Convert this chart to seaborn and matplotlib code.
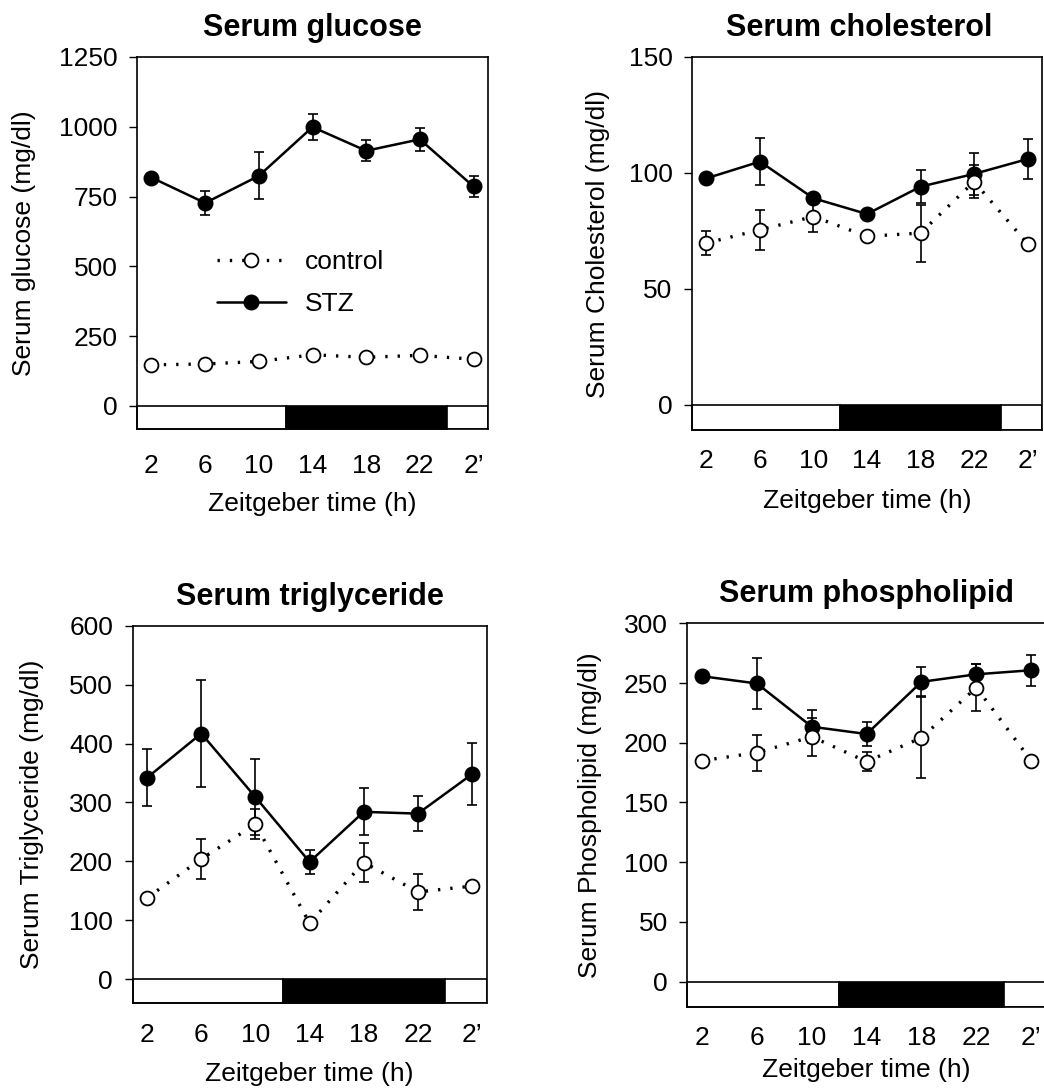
import numpy as np
import pandas as pd
import matplotlib
matplotlib.use("Agg")
import matplotlib.pyplot as plt
import seaborn as sns
from matplotlib.patches import Rectangle

sns.set_theme(style="ticks")
plt.rcParams["font.family"] = ["Liberation Sans", "DejaVu Sans"]
plt.rcParams.update({"text.color": "black", "axes.labelcolor": "black",
                     "xtick.color": "black", "ytick.color": "black"})

# ---------------- data ----------------
time_labels = ["2", "6", "10", "14", "18", "22", "2\u2019"]

glucose_ctrl = [147, 150, 159, 183, 174, 181, 167]
glucose_ctrl_err = [5, 5, 5, 5, 5, 5, 5]
glucose_stz = [818, 727, 824, 999, 914, 955, 786]
glucose_stz_err = [10, 42, 84, 45, 38, 42, 37]

chol_ctrl = [69.8, 75.5, 81.2, 72.7, 74.1, 96.3, 69.5]
chol_ctrl_err = [5, 8.7, 6.7, 1.5, 12.3, 7, 1]
chol_stz = [97.7, 104.9, 89.1, 82.3, 94.1, 99.6, 106]
chol_stz_err = [1.5, 10, 2, 1.5, 7, 9, 8.7]

tg_ctrl = [138, 204, 263, 95, 198, 148, 158]
tg_ctrl_err = [5, 34, 25, 5, 33, 30, 5]
tg_stz = [342, 417, 309, 199, 284, 281, 348]
tg_stz_err = [48, 90, 64, 20, 40, 30, 53]

pl_ctrl = [185, 191.7, 205, 184.2, 204.2, 246.2, 185]
pl_ctrl_err = [2, 15, 16, 8, 34, 20, 2]
pl_stz = [255.7, 249.6, 213.4, 207.3, 251, 257.3, 260.7]
pl_stz_err = [2, 21, 14, 10, 12, 9, 13]

titles = ["Serum glucose", "Serum cholesterol", "Serum triglyceride", "Serum phospholipid"]
ylabels = ["Serum glucose (mg/dl)", "Serum Cholesterol (mg/dl)",
           "Serum Triglyceride (mg/dl)", "Serum Phospholipid (mg/dl)"]
xlabel = "Zeitgeber time (h)"

# light / dark phases in category units (ZT12 -> 2.5, ZT24 -> 5.5)
dark_start, dark_end = 2.5, 5.5

# ---------------- layout ----------------
W, H = 1044, 1090
fig = plt.figure(figsize=(W / 100, H / 100), dpi=100)

def rect(l, r, t, b):
    return [l / W, 1 - b / H, (r - l) / W, (b - t) / H]

panels = [
    dict(rect=rect(137, 488, 57, 429.3), ylim=(-84, 1250), yticks=np.arange(0, 1251, 250),
         ctrl=glucose_ctrl, ctrl_err=glucose_ctrl_err, stz=glucose_stz, stz_err=glucose_stz_err,
         ylab_x=36, title_x=0.5, legend=True, tpad=18, lpad=10),
    dict(rect=rect(692, 1042, 57, 430), ylim=(-10.8, 150), yticks=[0, 50, 100, 150],
         ctrl=chol_ctrl, ctrl_err=chol_ctrl_err, stz=chol_stz, stz_err=chol_stz_err,
         ylab_x=610, title_x=0.477, legend=False, tpad=14, lpad=11),
    dict(rect=rect(132.5, 486.7, 625.7, 1003.3), ylim=(-41, 600), yticks=np.arange(0, 601, 100),
         ctrl=tg_ctrl, ctrl_err=tg_ctrl_err, stz=tg_stz, stz_err=tg_stz_err,
         ylab_x=44, title_x=0.5, legend=False, tpad=14, lpad=11),
    dict(rect=rect(687.3, 1046, 623.3, 1006.7), ylim=(-21, 300), yticks=np.arange(0, 301, 50),
         ctrl=pl_ctrl, ctrl_err=pl_ctrl_err, stz=pl_stz, stz_err=pl_stz_err,
         ylab_x=602, title_x=0.5, legend=False, tpad=14, lpad=6),
]

xmin, xmax = -0.27, 6.27
x = np.arange(len(time_labels))
FS = 19

for i, p in enumerate(panels):
    ax = fig.add_axes(p["rect"])
    ymin = p["ylim"][0]

    # error bars
    ax.errorbar(x, p["stz"], yerr=p["stz_err"], fmt="none", ecolor="black",
                elinewidth=1.2, capsize=3.8, capthick=1.2, zorder=2)
    ax.errorbar(x, p["ctrl"], yerr=p["ctrl_err"], fmt="none", ecolor="black",
                elinewidth=1.2, capsize=3.8, capthick=1.2, zorder=2)

    df_stz = pd.DataFrame({"t": x, "v": p["stz"]})
    df_ctrl = pd.DataFrame({"t": x, "v": p["ctrl"]})
    sns.lineplot(data=df_stz, x="t", y="v", ax=ax, color="black", linewidth=1.8,
                 marker="o", markersize=10.5, markerfacecolor="black",
                 markeredgecolor="black", markeredgewidth=1, label="STZ", zorder=3)
    sns.lineplot(data=df_ctrl, x="t", y="v", ax=ax, color="black", linewidth=2.4,
                 linestyle=(0, (0.7, 3.0)), marker="o", markersize=10,
                 markerfacecolor="white", markeredgecolor="black",
                 markeredgewidth=1.3, label="control", zorder=4)

    # light/dark bar
    ax.add_patch(Rectangle((xmin, ymin), dark_start - xmin, -ymin, facecolor="white",
                           edgecolor="black", lw=1.2, zorder=1, clip_on=False))
    ax.add_patch(Rectangle((dark_start, ymin), dark_end - dark_start, -ymin, facecolor="black",
                           edgecolor="black", lw=1.2, zorder=1, clip_on=False))
    ax.add_patch(Rectangle((dark_end, ymin), xmax - dark_end, -ymin, facecolor="white",
                           edgecolor="black", lw=1.2, zorder=1, clip_on=True))

    ax.set_xlim(xmin, xmax)
    ax.set_ylim(*p["ylim"])
    ax.set_yticks(p["yticks"])
    ax.set_xticks(x)
    ax.set_xticklabels(time_labels)
    ax.tick_params(axis="y", direction="out", length=6, width=1, pad=8, labelsize=FS)
    ax.tick_params(axis="x", length=0, pad=p["tpad"], labelsize=FS)
    for s in ax.spines.values():
        s.set_linewidth(1.2)
        s.set_color("black")

    ax.set_title(titles[i], fontsize=22, fontweight="bold", pad=15, x=p["title_x"])
    ax.set_xlabel(xlabel, fontsize=FS, labelpad=p["lpad"])
    ax.set_ylabel(ylabels[i], fontsize=FS)
    l, b, w, h = p["rect"]
    ax.yaxis.set_label_coords((p["ylab_x"] / W - l) / w, 0.5)

    leg = ax.get_legend()
    if leg is not None:
        leg.remove()
    if p["legend"]:
        handles, labels = ax.get_legend_handles_labels()
        order = [labels.index("control"), labels.index("STZ")]
        ax.legend([handles[j] for j in order], [labels[j] for j in order],
                  frameon=False, fontsize=FS, handlelength=2.6, handletextpad=0.75,
                  labelspacing=0.68, loc="upper left", bbox_to_anchor=(0.16, 0.545))

fig.savefig("out.png", dpi=100)
